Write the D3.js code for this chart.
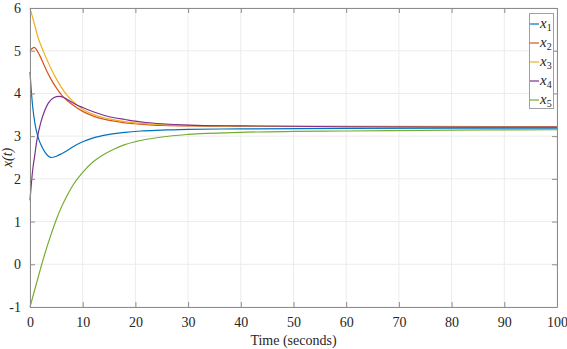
<!DOCTYPE html>
<html>
<head>
<meta charset="utf-8">
<script src="https://cdn.jsdelivr.net/npm/d3@7"></script>
<style>
  body { margin: 0; background: #fff; }
  svg { display: block; }
</style>
</head>
<body>
<svg id="chart"></svg>
<script>
const width = 567;
const height = 349;

// values
const names = ['1', '2', '3', '4', '5'];
const colors = ['#0072BD', '#D95319', '#EDB120', '#7E2F8E', '#77AC30'];
const xTicks = [0, 10, 20, 30, 40, 50, 60, 70, 80, 90, 100];
const yTicks = [-1, 0, 1, 2, 3, 4, 5, 6];

const x1 = [[0, 4.5], [0.25, 4.05], [0.5, 3.7], [1, 3.25], [1.5, 2.99], [2, 2.82], [2.8, 2.63], [3.5, 2.53],
    [4, 2.5], [5, 2.53], [6, 2.59], [7, 2.66], [8, 2.74], [9, 2.81], [10, 2.87], [12, 2.96], [15, 3.04],
    [18, 3.09], [21, 3.12], [25, 3.14], [30, 3.16], [40, 3.17], [60, 3.18], [100, 3.19]];
const x2 = [[0, 5.0], [0.4, 5.05], [0.8, 5.08], [1.2, 5.03], [1.5, 4.97], [2, 4.85], [3, 4.57], [4, 4.33],
    [5, 4.13], [6, 3.96], [7, 3.84], [8, 3.74], [10, 3.58], [12, 3.47], [14, 3.4], [16, 3.35], [18, 3.31],
    [20, 3.29], [25, 3.25], [30, 3.24], [40, 3.23], [100, 3.22]];
const x3 = [[0, 6.0], [1, 5.55], [1.5, 5.32], [2, 5.15], [3, 4.85], [4, 4.58], [5, 4.34], [6, 4.13],
    [7, 3.96], [8, 3.83], [10, 3.63], [12, 3.51], [14, 3.43], [16, 3.38], [18, 3.34], [20, 3.31],
    [25, 3.27], [30, 3.25], [40, 3.23], [100, 3.22]];
const x4 = [[0, 1.5], [0.3, 1.95], [0.6, 2.3], [0.9, 2.55], [1.2, 2.82], [1.5, 3.03], [2, 3.3], [2.8, 3.6],
    [3.5, 3.78], [4.5, 3.9], [5.5, 3.93], [6.5, 3.9], [7.2, 3.85], [8, 3.79], [10, 3.67], [12, 3.57],
    [14, 3.49], [16, 3.43], [18, 3.39], [20, 3.35], [22, 3.32], [25, 3.29], [30, 3.26], [40, 3.24],
    [60, 3.22], [100, 3.21]];
const x5 = [[0, -1], [1, -0.55], [2, -0.1], [3, 0.32], [4, 0.7], [5, 1.05], [6, 1.35], [7, 1.6], [8, 1.82],
    [10, 2.15], [12, 2.4], [14, 2.57], [16, 2.7], [18, 2.8], [20, 2.87], [25, 2.98], [30, 3.04],
    [40, 3.09], [50, 3.11], [60, 3.12], [80, 3.14], [100, 3.15]];
const series = [x1, x2, x3, x4, x5];

const serif = '"Times New Roman", "Liberation Serif", serif';
const margin = {top: 8, right: 10, bottom: 42, left: 30};
const svg = d3.select('#chart').attr('width', width).attr('height', height);

const x = d3.scaleLinear().domain([0, 100]).range([margin.left, width - margin.right]);
const y = d3.scaleLinear().domain([-1, 6]).range([height - margin.bottom, margin.top]);

// grid
svg.append('g')
    .selectAll('line')
    .data(xTicks)
    .join('line')
    .attr('x1', d => x(d)).attr('x2', d => x(d))
    .attr('y1', y(-1)).attr('y2', y(6))
    .attr('stroke', '#ececec').attr('stroke-width', 1);
svg.append('g')
    .selectAll('line')
    .data(yTicks)
    .join('line')
    .attr('x1', x(0)).attr('x2', x(100))
    .attr('y1', d => y(d)).attr('y2', d => y(d))
    .attr('stroke', '#ececec').attr('stroke-width', 1);

// curves
const line = d3.line()
    .x(d => x(d[0]))
    .y(d => y(d[1]))
    .curve(d3.curveMonotoneX);

svg.append('g')
    .selectAll('path')
    .data(series)
    .join('path')
    .attr('d', line)
    .attr('fill', 'none')
    .attr('stroke', (d, i) => colors[i])
    .attr('stroke-width', 1.2);

// axes (box with inward ticks)
const axisColor = '#8c8c8c';
const fmt = d => String(d);
const axisBottomG = svg.append('g')
    .attr('transform', `translate(0,${y(-1)})`)
    .call(d3.axisBottom(x).tickValues(xTicks).tickFormat(fmt).tickSizeInner(-5).tickSizeOuter(0).tickPadding(10));
const axisTopG = svg.append('g')
    .attr('transform', `translate(0,${y(6)})`)
    .call(d3.axisTop(x).tickValues(xTicks).tickSizeInner(-5).tickSizeOuter(0).tickFormat(''));
const axisLeftG = svg.append('g')
    .attr('transform', `translate(${x(0)},0)`)
    .call(d3.axisLeft(y).tickValues(yTicks).tickFormat(fmt).tickSizeInner(-5).tickSizeOuter(0).tickPadding(9));
const axisRightG = svg.append('g')
    .attr('transform', `translate(${x(100)},0)`)
    .call(d3.axisRight(y).tickValues(yTicks).tickSizeInner(-5).tickSizeOuter(0).tickFormat(''));

[axisBottomG, axisTopG, axisLeftG, axisRightG].forEach(g => {
    g.attr('font-family', serif).attr('font-size', 14);
    g.selectAll('path, line').attr('stroke', axisColor);
    g.selectAll('text').attr('fill', '#262626');
});

// axis labels
svg.append('text')
    .attr('x', x(50))
    .attr('y', 345)
    .attr('text-anchor', 'middle')
    .attr('fill', '#262626')
    .attr('font-family', serif)
    .attr('font-size', 14)
    .text('Time (seconds)');

svg.append('text')
    .attr('transform', `translate(12,${y(2.5)}) rotate(-90)`)
    .attr('text-anchor', 'middle')
    .attr('fill', '#262626')
    .attr('font-family', serif)
    .attr('font-size', 14)
    .attr('font-style', 'italic')
    .text('x(t)');

// legend
const legend = svg.append('g');
legend.append('rect')
    .attr('x', 529.5).attr('y', 13.5)
    .attr('width', 24).attr('height', 95)
    .attr('fill', '#fff')
    .attr('stroke', '#a0a0a0');

const item = legend.selectAll('g.item')
    .data(names)
    .join('g')
    .attr('class', 'item')
    .attr('transform', (d, i) => `translate(530,${24 + i * 19})`);
item.append('line')
    .attr('x1', 0).attr('x2', 9)
    .attr('stroke', (d, i) => colors[i])
    .attr('stroke-width', 1.2);
const label = item.append('text')
    .attr('x', 10)
    .attr('y', 4)
    .attr('fill', '#262626')
    .attr('font-family', serif)
    .attr('font-size', 15);
label.append('tspan').attr('font-style', 'italic').text('x');
label.append('tspan').attr('dy', 3).attr('font-size', 10).text(d => d);
</script>
</body>
</html>
